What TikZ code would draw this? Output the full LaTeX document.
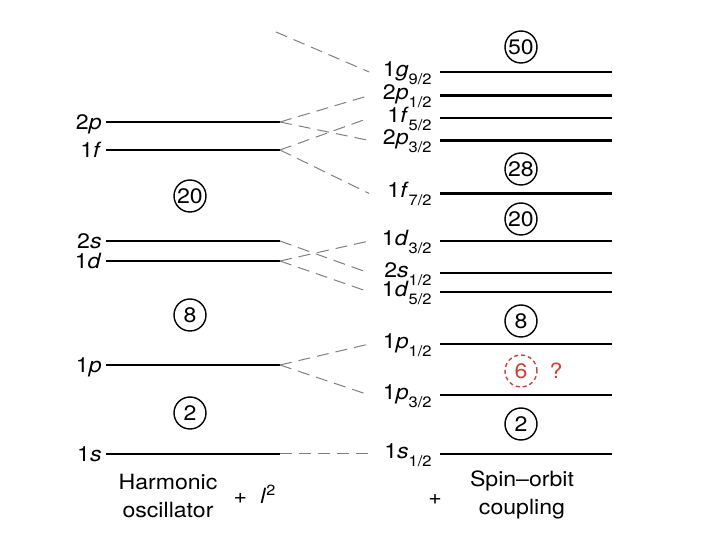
\documentclass[tikz,border=0pt]{standalone}
\usepackage{fontspec}
\setmainfont{TeX Gyre Heros}[FakeStretch=1.1]
\usetikzlibrary{positioning}
\definecolor{qred}{RGB}{205,65,55}
\newcommand{\lsub}[1]{\raisebox{-4pt}{\fontsize{7.5}{8}\selectfont #1}}

\begin{document}
\begin{tikzpicture}[x=0.5pt,y=-0.5pt,font=\fontsize{10.5}{14}\selectfont,
    level/.style={line width=1.3pt},
    split/.style={gray,line width=0.5pt,dash pattern=on 6pt off 3.5pt},
    holabel/.style={anchor=east,inner sep=2pt,text height=9.4pt,text depth=2pt},
    solabel/.style={anchor=east,inner xsep=4pt,inner ysep=0pt,text width=27pt,align=right,text height=8.5pt,text depth=4pt},
    magic/.style={draw,circle,line width=0.7pt,minimum size=16pt,inner sep=0pt}]
    \useasboundingbox (0,0) rectangle (720,540);

    \node[holabel] (ho2p-l) at (106,122) {2\textit{p}};
    \node[holabel] (ho1f-l) at (106,150) {1\textit{f}};
    \node[holabel] (ho2s-l) at (106,241) {2\textit{s}};
    \node[holabel] (ho1d-l) at (106,261) {1\textit{d}};
    \node[holabel] (ho1p-l) at (106,365) {1\textit{p}};
    \node[holabel] (ho1s-l) at (106,454) {1\textit{s}};
    \coordinate (ho1g) at (276,32);
    \coordinate (ho2p) at (280,122);
    \coordinate (ho1f) at (280,150);
    \coordinate (ho2s) at (280,241);
    \coordinate (ho1d) at (280,261);
    \coordinate (ho1p) at (280,365);
    \coordinate (ho1s) at (280,454);
    \draw[level] (ho2p-l.east) -- (ho2p);
    \draw[level] (ho1f-l.east) -- (ho1f);
    \draw[level] (ho2s-l.east) -- (ho2s);
    \draw[level] (ho1d-l.east) -- (ho1d);
    \draw[level] (ho1p-l.east) -- (ho1p);
    \draw[level] (ho1s-l.east) -- (ho1s);

    \node[solabel] (so1g) at (440,72) {1\textit{g}\lsub{9/2}};
    \node[solabel] (so2p1) at (440,95.5) {2\textit{p}\lsub{1/2}};
    \node[solabel] (so1f5) at (440,118) {1\textit{f}\lsub{5/2}};
    \node[solabel] (so2p3) at (440,140.5) {2\textit{p}\lsub{3/2}};
    \node[solabel] (so1f7) at (440,193.5) {1\textit{f}\lsub{7/2}};
    \node[solabel] (so1d3) at (440,241) {1\textit{d}\lsub{3/2}};
    \node[solabel] (so2s1) at (440,273) {2\textit{s}\lsub{1/2}};
    \node[solabel] (so1d5) at (440,292) {1\textit{d}\lsub{5/2}};
    \node[solabel] (so1p1) at (440,344) {1\textit{p}\lsub{1/2}};
    \node[solabel] (so1p3) at (440,395) {1\textit{p}\lsub{3/2}};
    \node[solabel] (so1s1) at (440,454) {1\textit{s}\lsub{1/2}};
    \draw[level] (so1g.east) -- (612,72);
    \draw[level] (so2p1.east) -- (612,95.5);
    \draw[level] (so1f5.east) -- (612,118);
    \draw[level] (so2p3.east) -- (612,140.5);
    \draw[level] (so1f7.east) -- (612,193.5);
    \draw[level] (so1d3.east) -- (612,241);
    \draw[level] (so2s1.east) -- (612,273);
    \draw[level] (so1d5.east) -- (612,292);
    \draw[level] (so1p1.east) -- (612,344);
    \draw[level] (so1p3.east) -- (612,395);
    \draw[level] (so1s1.east) -- (612,454);

    \draw[split] (ho1g) -- (so1g.west);
    \draw[split] (ho2p) -- (so2p1.west);
    \draw[split] (ho2p) -- (so2p3.west);
    \draw[split] (ho1f) -- (so1f5.west);
    \draw[split] (ho1f) -- (so1f7.west);
    \draw[split] (ho2s) -- (so2s1.west);
    \draw[split] (ho1d) -- (so1d3.west);
    \draw[split] (ho1d) -- (so1d5.west);
    \draw[split] (ho1p) -- (so1p1.west);
    \draw[split] (ho1p) -- (so1p3.west);
    \draw[split] (ho1s) -- (so1s1.west);

    \node[magic] (ho20) at (190,196) {20};
    \node[magic] (ho8) at (190,315) {8};
    \node[magic] (ho2) at (190,413) {2};
    \node[magic] (so50) at (521,47) {50};
    \node[magic] (so28) at (521,169) {28};
    \node[magic] (so20) at (521,219) {20};
    \node[magic] (so8) at (521,321) {8};
    \node[magic,qred,dash pattern=on 2pt off 1.5pt] (so6) at (521,371) {6};
    \node[qred] (ask) at (556,371) {?};
    \node[magic] (so2) at (521,424) {2};

    \node[align=center] (hotext) at (168,496) {Harmonic\\oscillator};
    \node (lsq) at (255,494) {+\,\, \textit{l}\textsuperscript{2}};
    \node (plus) at (435,500) {+};
    \node[align=center] (sotext) at (522,495) {Spin–orbit\\coupling};
\end{tikzpicture}
\end{document}
